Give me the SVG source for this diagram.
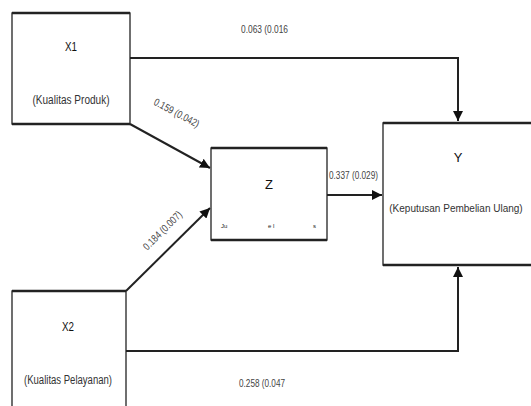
<svg xmlns="http://www.w3.org/2000/svg" width="531" height="406" viewBox="0 0 531 406">
<style>
.box{fill:#fff;stroke:#222;stroke-width:1.3}
.edge{fill:none;stroke:#222;stroke-width:2}
.title{font-family:"Liberation Sans",sans-serif;font-size:13px;fill:#111;text-anchor:middle}
.sub{font-family:"Liberation Sans",sans-serif;font-size:12px;fill:#333;text-anchor:middle}
.lbl{font-family:"Liberation Sans",sans-serif;font-size:10.5px;fill:#444}
.tiny{font-family:"Liberation Sans",sans-serif;font-size:6px;fill:#222}
</style>
<defs>
<marker id="arr" viewBox="0 0 10 10" refX="10" refY="5" markerWidth="5" markerHeight="5" orient="auto" markerUnits="strokeWidth">
<path d="M0,0 L10,5 L0,10 z" fill="#111"/>
</marker>
</defs>
<rect width="531" height="406" fill="#fff"/>
<g id="connectors">
<polyline class="edge" points="130,58 458,58 458,121" marker-end="url(#arr)"/>
<line class="edge" x1="130" y1="124" x2="210" y2="168" marker-end="url(#arr)"/>
<line class="edge" x1="126" y1="291" x2="210" y2="208" marker-end="url(#arr)"/>
<line class="edge" x1="327" y1="195" x2="382" y2="195" marker-end="url(#arr)"/>
<polyline class="edge" points="126,351 458,351 458,267" marker-end="url(#arr)"/>
<text class="lbl" x="241" y="33" textLength="47" lengthAdjust="spacingAndGlyphs">0.063 (0.016</text>
<text class="lbl" x="0" y="0" text-anchor="middle" transform="translate(175,116) rotate(28)" textLength="50" lengthAdjust="spacingAndGlyphs">0.159 (0.042)</text>
<text class="lbl" x="0" y="0" text-anchor="middle" transform="translate(165,233) rotate(-45)" textLength="50" lengthAdjust="spacingAndGlyphs">0.184 (0.007)</text>
<text class="lbl" x="329" y="179" textLength="49" lengthAdjust="spacingAndGlyphs">0.337 (0.029)</text>
<text class="lbl" x="239" y="387" textLength="46" lengthAdjust="spacingAndGlyphs">0.258 (0.047</text>
</g>
<g id="X1">
<rect class="box" x="12" y="13" width="118" height="111"/>
<line x1="12" y1="13" x2="130" y2="13" stroke="#222" stroke-width="2.5"/>
<line x1="12" y1="124" x2="130" y2="124" stroke="#222" stroke-width="2.5"/>
<text class="title" x="71" y="51" textLength="12" lengthAdjust="spacingAndGlyphs">X1</text>
<text class="sub" x="71" y="104" textLength="77" lengthAdjust="spacingAndGlyphs">(Kualitas Produk)</text>
</g>
<g id="Z">
<rect class="box" x="211" y="148" width="116" height="92"/>
<line x1="211" y1="148" x2="327" y2="148" stroke="#222" stroke-width="2.5"/>
<line x1="211" y1="240" x2="327" y2="240" stroke="#222" stroke-width="2.5"/>
<text class="title" x="269" y="189">Z</text>
<text class="tiny" x="221" y="228">Ju</text>
<text class="tiny" x="268" y="228">e  l</text>
<text class="tiny" x="313" y="228">s</text>
</g>
<g id="Y">
<rect x="383" y="123" width="148" height="142" fill="#fff"/>
<path d="M531,123 H383 V265 H531" fill="none" stroke="#222" stroke-width="1.3"/>
<line x1="383" y1="123" x2="531" y2="123" stroke="#222" stroke-width="2.5"/>
<line x1="383" y1="265" x2="531" y2="265" stroke="#222" stroke-width="2.5"/>
<text class="title" x="458" y="162">Y</text>
<text class="sub" x="456" y="212" style="font-size:10px">(Keputusan Pembelian Ulang)</text>
</g>
<g id="X2">
<rect class="box" x="12" y="291" width="114" height="130"/>
<line x1="12" y1="291" x2="126" y2="291" stroke="#222" stroke-width="2.5"/>
<text class="title" x="68" y="331" textLength="12" lengthAdjust="spacingAndGlyphs">X2</text>
<text class="sub" x="68" y="384" textLength="88" lengthAdjust="spacingAndGlyphs">(Kualitas Pelayanan)</text>
</g>
</svg>
